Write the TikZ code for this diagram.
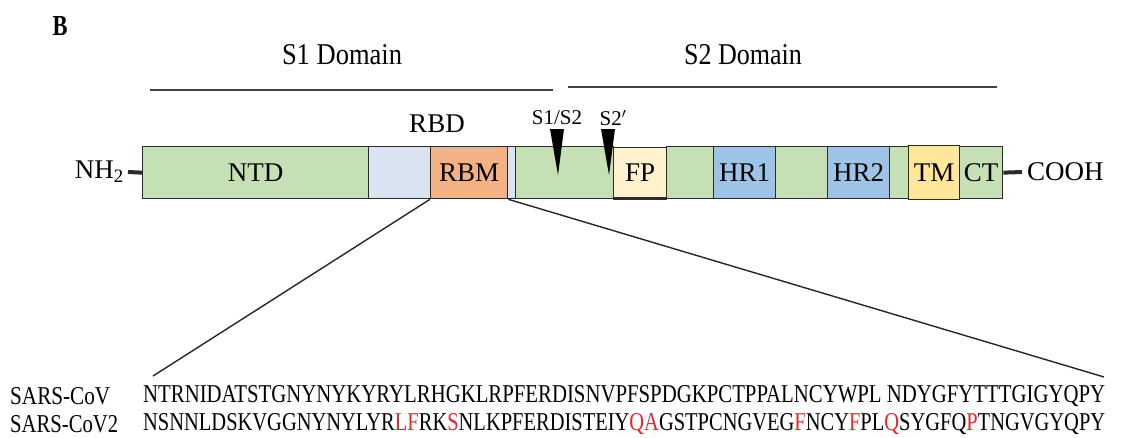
\documentclass[tikz,border=0pt]{standalone}
\usepackage{fontspec}
\setmainfont{Liberation Serif}
\usepackage{graphicx}
\definecolor{segGreen}{HTML}{C5E0B4}
\definecolor{segLightBlue}{HTML}{D9E3F1}
\definecolor{segOrange}{HTML}{F4B183}
\definecolor{segCream}{HTML}{FFF2CC}
\definecolor{segBlue}{HTML}{9DC3E6}
\definecolor{segYellow}{HTML}{FFE699}
\definecolor{edge}{HTML}{2B2B2B}
\definecolor{mutRed}{HTML}{E8262A}
\newcommand{\mut}[1]{\textcolor{mutRed}{#1}}
% condensed text: fixed width and cap height
\newcommand{\fitw}[3]{\resizebox{#1}{#2}{#3}}
\tikzset{
  seg/.style={draw=edge, line width=1.3pt, inner sep=0pt, anchor=north west,
    minimum height=52pt, font=\fontsize{27}{29}\selectfont},
  domline/.style={draw=black!75, line width=2pt},
  zoomline/.style={draw=black!85, line width=1.4pt},
  termline/.style={draw=edge, line width=4pt},
  cut/.style={fill=black, draw=none},
  lbl/.style={inner sep=0pt, font=\fontsize{27}{29}\selectfont},
  smalllbl/.style={inner sep=0pt, font=\fontsize{21}{23}\selectfont},
  seqlbl/.style={inner sep=0pt, anchor=west, font=\fontsize{25}{27}\selectfont},
}
\begin{document}
\begin{tikzpicture}[x=1pt, y=-1pt]
\useasboundingbox (0,0) rectangle (1126,437);

% panel letter
\node[inner sep=0pt] (panel) at (60,26) {\fitw{15pt}{19pt}{\bfseries B}};

% domain headings and their spans
\node[lbl] (s1dom) at (342,55) {\fitw{120pt}{20pt}{S1 Domain}};
\node[lbl] (s2dom) at (743,55) {\fitw{118pt}{20pt}{S2 Domain}};
\coordinate (s1a) at (150,90); \coordinate (s1b) at (553,90);
\coordinate (s2a) at (568,87); \coordinate (s2b) at (997,87);
\draw[domline] (s1a) -- (s1b);
\draw[domline] (s2a) -- (s2b);

% spike protein segments
\node[seg, fill=segGreen, minimum width=226pt] (ntd) at (142,146) {NTD};
\node[seg, fill=segLightBlue, minimum width=62pt] (rbdl) at (368,146) {};
\node[seg, fill=segLightBlue, minimum width=8pt] (rbdr) at (507,146) {};
\node[seg, fill=segGreen, minimum width=98pt] (g1) at (515,146) {};
\node[seg, fill=segGreen, minimum width=47pt] (g2) at (666,146) {};
\node[seg, fill=segGreen, minimum width=52pt] (g3) at (775,146) {};
\node[seg, fill=segGreen, minimum width=19pt] (g4) at (889,146) {};
\node[seg, fill=segOrange, minimum width=77pt] (rbm) at (430,146) {RBM};
\node[seg, fill=segCream, minimum width=53pt, minimum height=50pt] (fp) at (613,147) {FP};
\draw[edge, line width=2.4pt] (fp.south west) -- (fp.south east);
\node[seg, fill=segBlue, minimum width=62pt] (hr1) at (713,146) {HR1};
\node[seg, fill=segBlue, minimum width=62pt] (hr2) at (827,146) {\raisebox{-4pt}{HR2}};
\node[seg, fill=segGreen, minimum width=43pt] (ct) at (959,146) {CT};
\node[seg, fill=segYellow, minimum width=51pt, minimum height=54pt] (tm) at (908,145) {TM};

% termini
\node[lbl, anchor=east] (nterm) at (124,172) {NH\textsubscript{2}};
\node[lbl, anchor=west] (cterm) at (1027,172) {COOH};
\coordinate (nd) at (128,172);
\coordinate (cd) at (1022,172);
\draw[termline] (nd) -- (ntd.west);
\draw[termline] (ct.east) -- (cd);

% RBD label and cleavage sites
\node[lbl] (rbd) at (437,124) {RBD};
\node[smalllbl] (cs1) at (557,118) {S1/S2};
\node[smalllbl] (cs2) at (613,118) {S2$'$};
\coordinate (t1) at (557,129);
\coordinate (t2) at (608,129);
\fill[cut] (t1) ++(-7,0) -- ++(14,0) -- ++(-6,46) -- cycle;
\fill[cut] (t2) ++(-7,0) -- ++(14,0) -- ++(-6,46) -- cycle;

% zoom onto the receptor-binding motif
\coordinate (zl) at (153,376);
\coordinate (zr) at (1104,377);
\draw[zoomline] (rbm.south west) -- (zl);
\draw[zoomline] (rbm.south east) -- (zr);

% sequence alignment
\node[seqlbl] (cov1) at (10,396.5) {\fitw{100pt}{17pt}{SARS-CoV}};
\node[seqlbl] (cov2) at (10,424.5) {\fitw{108pt}{17pt}{SARS-CoV2}};
\node[seqlbl] (seq1) at (143,396.5) {\fitw{962pt}{17pt}{NTRNIDATSTGNYNYKYRYLRHGKLRPFERDISNVPFSPDGKPCTPPALNCYWPL NDYGFYTTTGIGYQPY}};
\node[seqlbl] (seq2) at (143,424.5) {\fitw{962pt}{17pt}{NSNNLDSKVGGNYNYLYR\mut{LF}RK\mut{S}NLKPFERDISTEIY\mut{QA}GSTPCNGVEG\mut{F}NCY\mut{F}PL\mut{Q}SYGFQ\mut{P}TNGVGYQPY}};
\end{tikzpicture}
\end{document}
